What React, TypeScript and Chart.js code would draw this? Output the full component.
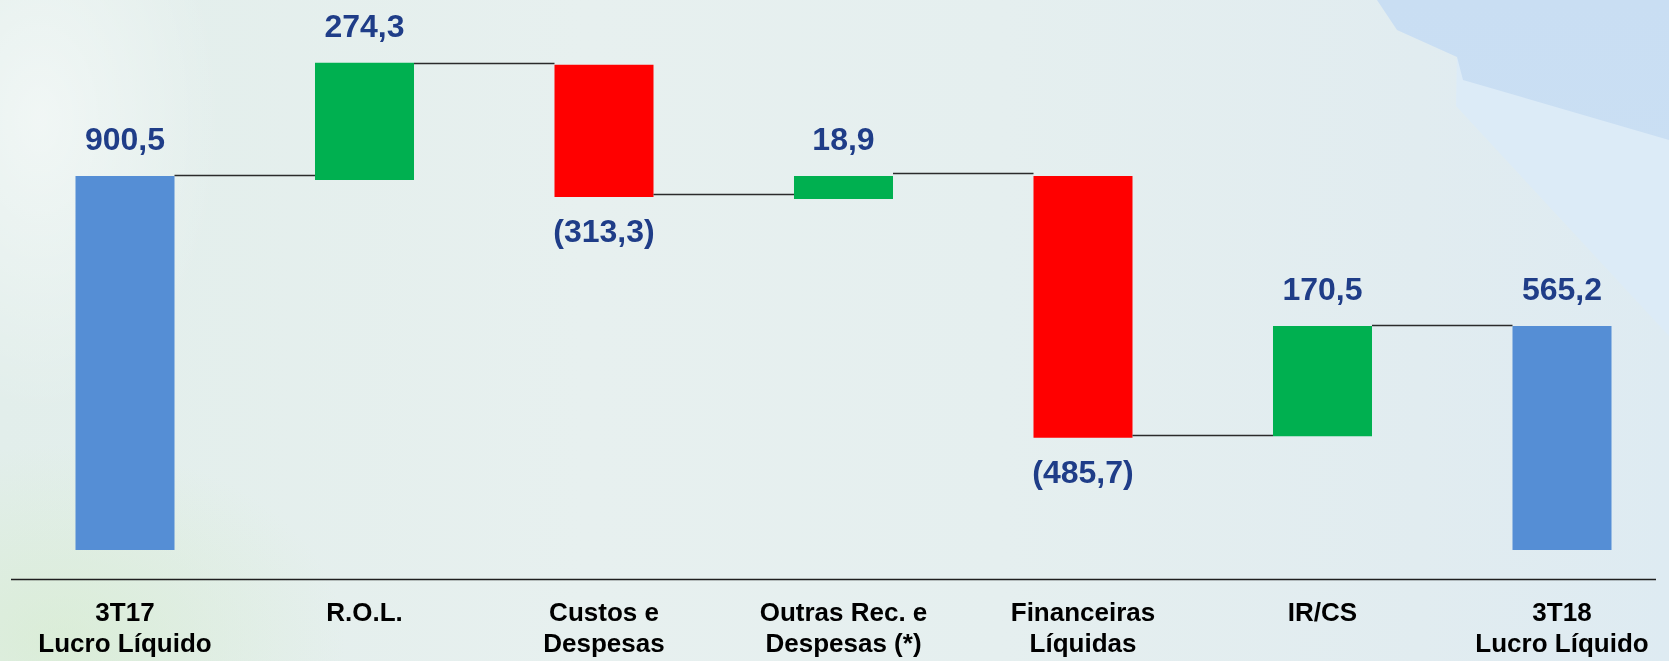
import React, { useEffect, useRef } from "react";
import { Chart, registerables } from "chart.js";

Chart.register(...registerables);

// Categories (multi-line tick labels)
const categories: string[][] = [
  ["3T17", "Lucro Líquido"],
  ["R.O.L."],
  ["Custos e", "Despesas"],
  ["Outras Rec. e", "Despesas (*)"],
  ["Financeiras", "Líquidas"],
  ["IR/CS"],
  ["3T18", "Lucro Líquido"],
];

// Printed values (R$ MM)
const values: number[] = [900.5, 274.3, -313.3, 18.9, -485.7, 170.5, 565.2];

// Bar extents as drawn in the picture (low / high)
const barLow: number[] = [0, 891, 850, 845, 270, 274, 0];
const barHigh: number[] = [900.5, 1173, 1168, 900.5, 900.5, 539, 539];

// Levels of the thin connector lines between consecutive bars
const connectorLevels: number[] = [903, 1173, 857, 908, 277, 542];

const barColors: string[] = [
  "#558ED5",
  "#00B050",
  "#FF0000",
  "#00B050",
  "#FF0000",
  "#00B050",
  "#558ED5",
];

const FONT = "'Liberation Sans', Arial, Helvetica, sans-serif";

function fmt(v: number): string {
  const s = Math.abs(v).toFixed(1).replace(".", ",");
  return v < 0 ? `(${s})` : s;
}

const waterfallPlugin = {
  id: "waterfallExtras",
  afterDatasetsDraw(chart: any) {
    const { ctx, chartArea } = chart;
    const meta = chart.getDatasetMeta(0);
    const yScale = chart.scales.y;
    ctx.save();
    // connectors
    ctx.strokeStyle = "#2b2b2b";
    ctx.lineWidth = 1.5;
    for (let i = 0; i < connectorLevels.length; i++) {
      const a: any = meta.data[i];
      const b: any = meta.data[i + 1];
      if (!a || !b) continue;
      const py = Math.round(yScale.getPixelForValue(connectorLevels[i])) + 0.5;
      ctx.beginPath();
      ctx.moveTo(a.x + a.width / 2, py);
      ctx.lineTo(b.x - b.width / 2, py);
      ctx.stroke();
    }
    // horizontal axis rule
    const ay = Math.round(chartArea.bottom + 29) + 0.5;
    ctx.strokeStyle = "#1e1e1e";
    ctx.beginPath();
    ctx.moveTo(11, ay);
    ctx.lineTo(chart.width - 13, ay);
    ctx.stroke();
    // value labels
    ctx.font = `bold 32px ${FONT}`;
    ctx.fillStyle = "#1F3D88";
    ctx.textAlign = "center";
    ctx.textBaseline = "alphabetic";
    values.forEach((v, i) => {
      const el: any = meta.data[i];
      if (!el) return;
      const top = Math.min(el.y, el.base);
      const bottom = Math.max(el.y, el.base);
      if (v >= 0) ctx.fillText(fmt(v), el.x, top - 26);
      else ctx.fillText(fmt(v), el.x, bottom + 45);
    });
    ctx.restore();
  },
};

export default function App() {
  const canvasRef = useRef<HTMLCanvasElement | null>(null);

  useEffect(() => {
    const canvas = canvasRef.current;
    if (!canvas) return;
    const chart = new Chart(canvas, {
      type: "bar",
      data: {
        labels: categories,
        datasets: [
          {
            data: barLow.map((lo, i) => [lo, barHigh[i]]) as any,
            backgroundColor: barColors,
            borderWidth: 0,
            categoryPercentage: 0.4134,
            barPercentage: 1,
            clip: false as any,
          },
        ],
      },
      options: {
        animation: false,
        responsive: true,
        maintainAspectRatio: false,
        layout: { padding: { top: 10, left: 125, right: 107, bottom: 0 } },
        plugins: {
          legend: { display: false },
          tooltip: { enabled: false },
        },
        scales: {
          x: {
            type: "category",
            offset: false,
            grid: { display: false, drawTicks: false },
            border: { display: false },
            ticks: {
              color: "#000000",
              font: { family: FONT, size: 26, weight: "bold", lineHeight: 1.2 },
              padding: 48,
              maxRotation: 0,
              minRotation: 0,
              autoSkip: false,
            },
            afterFit: (scale: any) => {
              scale.height = 111;
              scale.paddingLeft = 0;
              scale.paddingRight = 0;
            },
          },
          y: {
            display: false,
            min: 0,
            max: 1300,
          },
        },
      },
      plugins: [waterfallPlugin],
    });
    return () => chart.destroy();
  }, []);

  const bg =
    "radial-gradient(ellipse 260px 420px at 40px 120px, rgba(255,255,255,0.5), rgba(255,255,255,0) 70%)," +
    "radial-gradient(ellipse 380px 260px at 60px 640px, rgba(214,236,205,0.65), rgba(214,236,205,0) 75%)," +
    "linear-gradient(90deg, #e2eeeb 0%, #e7f0ef 35%, #e5efef 60%, #e1ecf0 85%, #deebf2 100%)";

  return (
    <div
      style={{
        position: "fixed",
        left: 0,
        top: 0,
        width: "100vw",
        height: "100vh",
        overflow: "hidden",
        background: bg,
      }}
    >
      <div
        style={{
          position: "absolute",
          inset: 0,
          background: "#dcebf7",
          clipPath: "polygon(1457px 57px, 1669px 140px, 1669px 336px, 1456px 106px)",
        }}
      />
      <div
        style={{
          position: "absolute",
          inset: 0,
          background: "linear-gradient(180deg, #c9def3, #cde2f4)",
          clipPath:
            "polygon(1377px 0px, 1669px 0px, 1669px 140px, 1463px 80px, 1457px 57px, 1397px 30px)",
        }}
      />
      <div style={{ position: "absolute", inset: 0 }}>
        <canvas ref={canvasRef} />
      </div>
    </div>
  );
}
